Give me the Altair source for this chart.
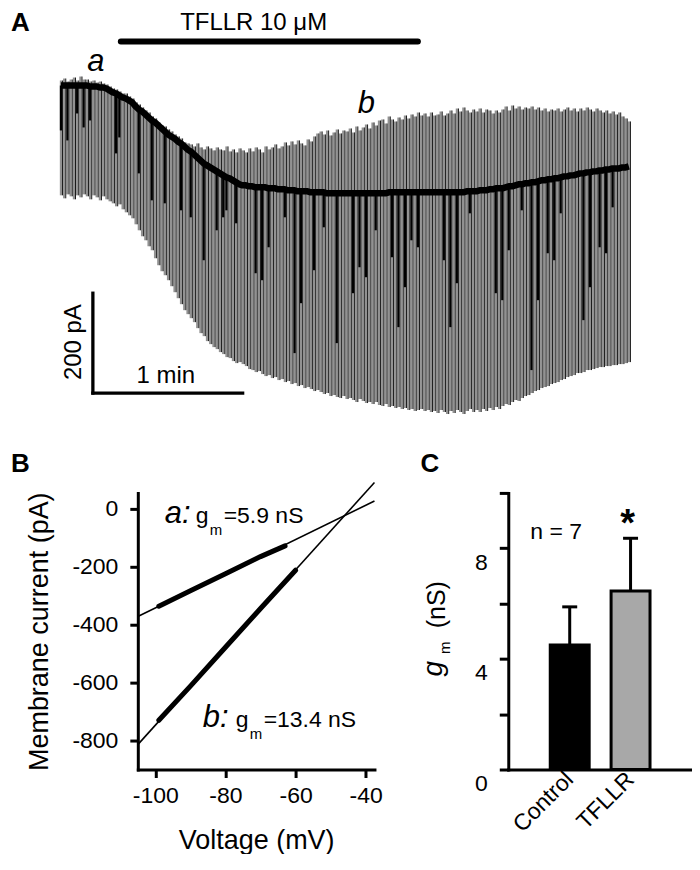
import altair as alt
import pandas as pd

FONT = "Liberation Sans"

# ---------------- Panel A : membrane current trace ----------------
sweep_start = 20.0      # s, time of first ramp
sweep_interval = 1.3    # s between ramps
top = [0, 4, -2, 2, 6, 0, 8, 2,
       2, -2, 0, -4, -2, -6, -8, -12,
       -16, -18, -22, -26, -26, -32, -36, -44,
       -48, -54, -60, -64, -72, -76, -84, -90,
       -92, -98, -102, -108, -112, -116, -124, -126,
       -128, -132, -126, -134, -138, -132, -136, -140,
       -134, -138, -140, -132, -142, -138, -144, -136,
       -140, -144, -136, -142, -134, -138, -144, -132,
       -138, -134, -128, -136, -132, -124, -130, -122,
       -128, -120, -126, -130, -118, -122, -112, -106,
       -102, -108, -100, -110, -104, -98, -106, -100,
       -102, -96, -104, -92, -100, -94, -88, -96,
       -84, -90, -80, -78, -86, -72, -78, -82,
       -74, -78, -70, -76, -68, -72, -64, -70,
       -66, -72, -64, -70, -68, -62, -70, -66,
       -60, -66, -56, -62, -54, -60, -64, -58,
       -62, -56, -64, -58, -60, -66, -60, -64,
       -58, -52, -60, -50, -56, -52, -58, -54,
       -56, -52, -58, -54, -60, -56, -62, -58,
       -60, -56, -62, -58, -54, -60, -56, -62,
       -56, -60, -54, -58, -62, -56, -60, -64,
       -60, -66, -62, -68, -64, -72, -76, -82]
base = [-10, -10, -10, -10, -10, -10, -10, -10,
        -10, -12, -12, -12, -14, -14, -16, -20,
        -24, -26, -30, -34, -36, -40, -44, -52,
        -58, -62, -68, -74, -80, -84, -90, -96,
        -102, -108, -112, -116, -122, -126, -132, -138,
        -142, -148, -154, -160, -166, -170, -174, -178,
        -182, -186, -190, -194, -196, -200, -204, -208,
        -210, -210, -212, -212, -214, -214, -214, -214,
        -216, -216, -216, -218, -218, -218, -220, -220,
        -220, -222, -222, -222, -222, -224, -224, -224,
        -224, -224, -226, -226, -226, -226, -226, -226,
        -226, -226, -226, -226, -226, -226, -226, -226,
        -226, -226, -226, -226, -226, -224, -224, -224,
        -224, -224, -224, -224, -224, -224, -224, -224,
        -224, -224, -224, -224, -224, -224, -224, -224,
        -224, -224, -224, -224, -224, -222, -222, -222,
        -222, -220, -220, -220, -218, -218, -216, -216,
        -216, -214, -212, -212, -210, -208, -208, -206,
        -206, -204, -204, -202, -200, -200, -198, -198,
        -196, -196, -194, -192, -192, -190, -190, -188,
        -186, -186, -184, -184, -182, -182, -180, -180,
        -178, -178, -176, -176, -176, -174, -174, -172]
bot = [-230, -236, -228, -232, -238, -230, -234, -228,
       -232, -238, -230, -234, -240, -232, -238, -242,
       -246, -252, -248, -258, -264, -270, -276, -288,
       -300, -312, -320, -332, -340, -356, -370, -382,
       -390, -400, -412, -424, -436, -448, -460, -468,
       -476, -484, -496, -506, -512, -522, -528, -534,
       -538, -544, -548, -554, -556, -562, -566, -564,
       -568, -572, -578, -580, -584, -582, -588, -592,
       -590, -596, -594, -600, -598, -604, -602, -608,
       -606, -612, -610, -616, -614, -618, -622, -620,
       -624, -628, -626, -632, -630, -634, -636, -632,
       -638, -636, -640, -644, -638, -642, -646, -644,
       -648, -644, -650, -652, -648, -654, -652, -656,
       -654, -658, -656, -660, -658, -662, -660, -658,
       -662, -660, -664, -662, -666, -660, -664, -668,
       -662, -666, -660, -664, -668, -662, -658, -664,
       -660, -664, -658, -662, -656, -660, -654, -658,
       -652, -648, -650, -644, -640, -642, -636, -632,
       -630, -626, -622, -620, -616, -614, -612, -608,
       -606, -604, -600, -598, -594, -592, -590, -586,
       -586, -584, -580, -580, -578, -576, -574, -574,
       -572, -572, -570, -570, -568, -568, -566, -564]
# ramps whose dense (black) part reaches further down
streak_idx = [0, 2, 5, 7, 9, 17, 18, 24, 28, 32, 37, 40, 44, 48, 50, 51, 54,
              60, 62, 64, 69, 72, 74, 78, 81, 85, 90, 92, 94, 97, 102, 104, 106,
              108, 110, 118, 120, 122, 126, 134, 136, 138, 142, 145, 147, 150,
              152, 154, 161, 163, 166, 168, 170]
streak_low = [-100, -120, -66, -94, -80, -146, -114, -186, -240, -246, -260,
              -274, -360, -300, -274, -260, -286, -386, -400, -334, -274, -546,
              -446, -380, -294, -526, -426, -374, -394, -300, -354, -494, -414,
              -320, -334, -360, -494, -406, -266, -426, -440, -340, -260, -580,
              -440, -346, -360, -266, -480, -414, -334, -346, -254]
drug_on, drug_off, drug_level = 44.0, 163.0, 78.0      # s, s, pA (bar height)
sb_t0, sb_min = 32.8, 60.0          # scale bar: start (s), 1 min
sb_i0, sb_pA = -626.0, 200.0        # scale bar: start (pA), 200 pA

n = len(top)
times = [sweep_start + sweep_interval * i for i in range(n)]
sw = pd.DataFrame({"t": times, "top": top, "base": base, "bot": bot})
st = pd.DataFrame({"t": [times[i] for i in streak_idx],
                   "base": [base[i] for i in streak_idx],
                   "low": streak_low})
drug = pd.DataFrame({"t0": [drug_on], "t1": [drug_off], "v": [drug_level]})
sbv = pd.DataFrame({"t": [sb_t0], "v0": [sb_i0], "v1": [sb_i0 + sb_pA]})
sbh = pd.DataFrame({"t0": [sb_t0], "t1": [sb_t0 + sb_min], "v": [sb_i0]})

xsA = alt.Scale(domain=[0, 272], nice=False, zero=False)
ysA = alt.Scale(domain=[-680, 144], nice=False, zero=False)


def txt(s, x, y, size, **kw):
    return alt.Chart(pd.DataFrame({"s": [s]})).mark_text(
        font=FONT, fontSize=size, color="black", **kw
    ).encode(text="s:N", x=alt.value(x), y=alt.value(y))


gray = alt.Chart(sw).mark_rule(color="#929292", strokeWidth=2.2).encode(
    x=alt.X("t:Q", scale=xsA, axis=None),
    y=alt.Y("top:Q", scale=ysA, axis=None), y2="bot:Q")
edge = alt.Chart(sw).mark_rule(color="black", strokeWidth=0.9, xOffset=1.6).encode(
    x=alt.X("t:Q", scale=xsA, axis=None),
    y=alt.Y("top:Q", scale=ysA, axis=None), y2="bot:Q")
streaks = alt.Chart(st).mark_rule(color="black", strokeWidth=2.2).encode(
    x=alt.X("t:Q", scale=xsA, axis=None),
    y=alt.Y("base:Q", scale=ysA, axis=None), y2="low:Q")
hold = alt.Chart(sw).mark_line(color="black", strokeWidth=6.5, strokeJoin="round").encode(
    x=alt.X("t:Q", scale=xsA, axis=None),
    y=alt.Y("base:Q", scale=ysA, axis=None))
drugbar = alt.Chart(drug).mark_rule(color="black", strokeWidth=6, strokeCap="round").encode(
    x=alt.X("t0:Q", scale=xsA, axis=None), x2="t1:Q",
    y=alt.Y("v:Q", scale=ysA, axis=None))
barv = alt.Chart(sbv).mark_rule(color="black", strokeWidth=3.3, strokeCap="square").encode(
    x=alt.X("t:Q", scale=xsA, axis=None),
    y=alt.Y("v0:Q", scale=ysA, axis=None), y2="v1:Q")
barh = alt.Chart(sbh).mark_rule(color="black", strokeWidth=3.3, strokeCap="square").encode(
    x=alt.X("t0:Q", scale=xsA, axis=None), x2="t1:Q",
    y=alt.Y("v:Q", scale=ysA, axis=None))

panelA = alt.layer(
    gray, edge, streaks, hold, drugbar, barv, barh,
    txt("A", 0, 14, 26, fontWeight="bold", align="left", baseline="middle"),
    txt("TFLLR 10 \u03bcM", 243, 14, 24, align="center", baseline="middle"),
    txt("a", 85, 62, 31, fontStyle="italic", align="center", baseline="alphabetic"),
    txt("b", 356, 105, 31, fontStyle="italic", align="center", baseline="alphabetic"),
    txt("1 min", 155, 375, 24, align="center", baseline="alphabetic"),
    txt("200 pA", 70, 334, 24, angle=270, align="center", baseline="alphabetic"),
).properties(width=680, height=412)

# ---------------- Panel B : I-V relations ----------------
fit_a_v, fit_a_i = [-105, -37.5], [-372, 27]
fit_b_v, fit_b_i = [-105, -37.5], [-814, 91]
data_a_v, data_a_i = [-99, -90, -80, -70, -63], [-336, -283, -224, -165, -128]
data_b_v, data_b_i = [-99, -90, -80, -70, -60], [-730, -612, -478, -344, -212]

fits = pd.DataFrame({"V": fit_a_v + fit_b_v, "I": fit_a_i + fit_b_i,
                     "s": ["a"] * 2 + ["b"] * 2})
dats = pd.DataFrame({"V": data_a_v + data_b_v, "I": data_a_i + data_b_i,
                     "s": ["a"] * 5 + ["b"] * 5})

xB = alt.X("V:Q", scale=alt.Scale(domain=[-105, -37.5], nice=False, zero=False),
           axis=alt.Axis(values=[-100, -80, -60, -40], title="Voltage (mV)",
                         labelExpr="'' + datum.value", tickSize=8, labelPadding=7,
                         labelFontSize=23, titleFontSize=27, titlePadding=20))
yB = alt.Y("I:Q", scale=alt.Scale(domain=[-900, 55], nice=False, zero=False),
           axis=alt.Axis(values=[0, -200, -400, -600, -800],
                         title="Membrane current (pA)",
                         labelExpr="'' + datum.value", tickSize=8, labelPadding=12,
                         labelFontSize=23, titleFontSize=27, titlePadding=18))

fitl = alt.Chart(fits).mark_line(color="black", strokeWidth=1.6).encode(x=xB, y=yB, detail="s:N")
datl = alt.Chart(dats).mark_line(color="black", strokeWidth=5, strokeCap="round").encode(
    x=xB, y=yB, detail="s:N")

panelB = alt.layer(
    fitl, datl,
    txt("B", -127, -29, 26, fontWeight="bold", align="left", baseline="middle"),
    txt("a:", 27, 30, 31, fontStyle="italic", align="left", baseline="alphabetic"),
    txt("g", 58, 30, 23, align="left", baseline="alphabetic"),
    txt("m", 72, 42, 15, align="left", baseline="alphabetic"),
    txt("=5.9 nS", 86, 30, 23, align="left", baseline="alphabetic"),
    txt("b:", 65, 234, 31, fontStyle="italic", align="left", baseline="alphabetic"),
    txt("g", 98, 234, 23, align="left", baseline="alphabetic"),
    txt("m", 112, 246, 15, align="left", baseline="alphabetic"),
    txt("=13.4 nS", 126, 234, 23, align="left", baseline="alphabetic"),
).properties(width=237, height=277)

# ---------------- Panel C : conductance bars ----------------
groups = ["Control", "TFLLR"]
gm_mean = [4.5, 6.45]
gm_sem = [1.38, 1.91]
cdf = pd.DataFrame({"g": groups, "m": gm_mean,
                    "hi": [m + s for m, s in zip(gm_mean, gm_sem)]})

xC = alt.X("g:N", sort=groups,
           scale=alt.Scale(paddingInner=0.36, paddingOuter=0.69),
           axis=alt.Axis(title=None, ticks=False, labelAngle=315, labelAlign="right",
                         labelBaseline="middle", labelPadding=6, labelFontSize=23))
yC = alt.Y("m:Q", scale=alt.Scale(domain=[0, 10], nice=False),
           axis=alt.Axis(title=None, values=[0, 2, 4, 6, 8, 10],
                         labelExpr="datum.value % 4 == 0 ? datum.label : ''",
                         tickSize=9, labelPadding=12, labelOffset=14, labelFontSize=23))

bars = alt.Chart(cdf).mark_bar(stroke="black", strokeWidth=3).encode(
    x=xC, y=yC,
    color=alt.Color("g:N", scale=alt.Scale(domain=groups, range=["#000000", "#a8a8a8"]),
                    legend=None))
err = alt.Chart(cdf).mark_rule(color="black", strokeWidth=3).encode(
    x=xC, y=yC, y2="hi:Q")
cap = alt.Chart(cdf).mark_tick(color="black", thickness=3, size=15, opacity=1).encode(
    x=xC, y=alt.Y("hi:Q"))

panelC = alt.layer(
    bars, err, cap,
    txt("C", -88, -29, 26, fontWeight="bold", align="left", baseline="middle"),
    txt("n = 7", 48, 46, 23, align="center", baseline="alphabetic"),
    txt("*", 119.5, 43, 38, fontWeight="bold", align="center", baseline="alphabetic"),
    txt("(nS)", -63, 112, 25, angle=270, align="center", baseline="alphabetic"),
    txt("m", -58, 155, 15, angle=270, align="center", baseline="alphabetic"),
    txt("g", -66, 176, 28, angle=270, fontStyle="italic", align="center", baseline="alphabetic"),
).properties(width=184, height=277)


def spacer(w, h):
    return alt.Chart(pd.DataFrame({"z": [0]})).mark_point(opacity=0).encode(
        x=alt.value(0), y=alt.value(0)).properties(width=w, height=h)


row2 = alt.hconcat(spacer(127, 1), panelB, spacer(133.7, 1), panelC,
                   spacing=0, bounds="flush")
chart = alt.vconcat(panelA, row2, spacing=73, bounds="flush").properties(
    padding=0).configure_view(stroke=None).configure_axis(
    domainColor="black", tickColor="black", labelColor="black", titleColor="black",
    domainWidth=3, tickWidth=3, labelFont=FONT, titleFont=FONT, grid=False,
    titleFontWeight="normal", domainCap="square",
).configure_text(font=FONT)

chart.save("out.html", embed_options={"renderer": "svg", "actions": False})
